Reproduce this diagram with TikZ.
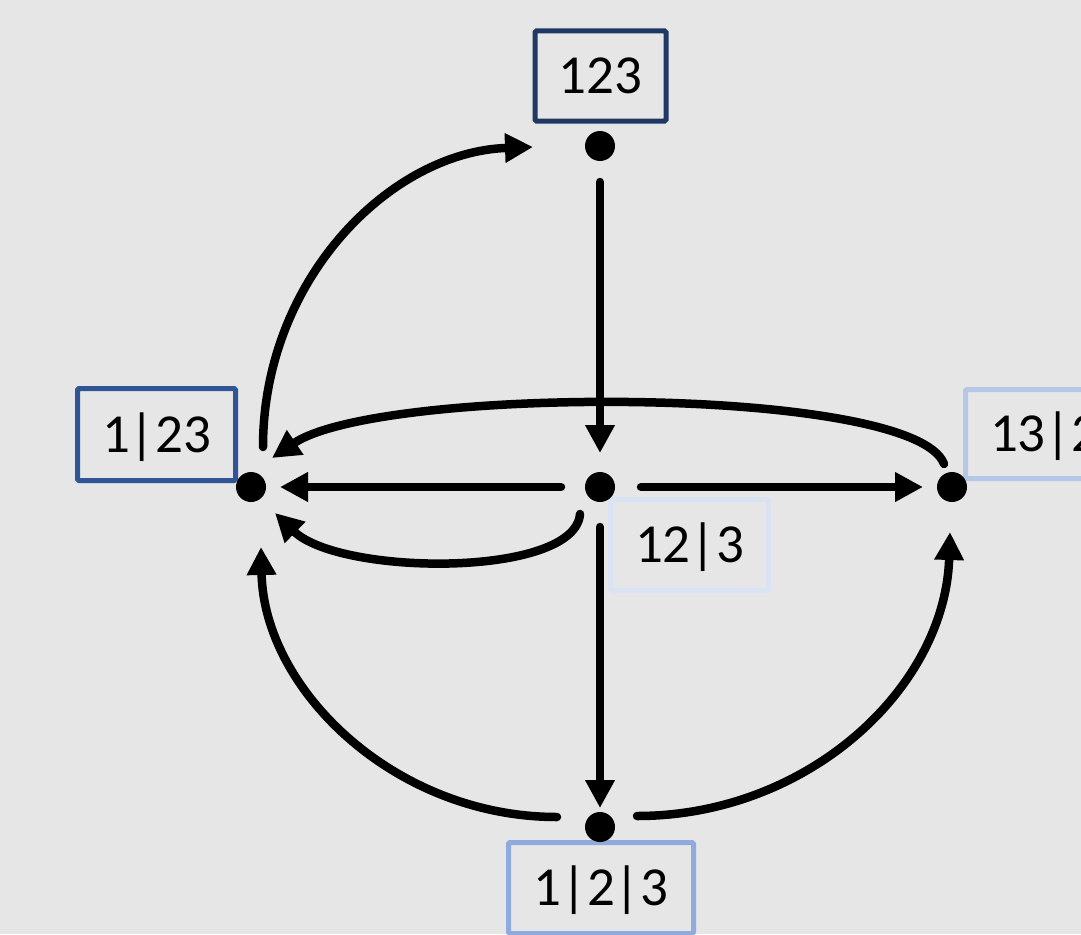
\documentclass[tikz,border=0pt]{standalone}
\usepackage{fontspec}
\setmainfont{Carlito}
\usetikzlibrary{arrows.meta,calc}
\definecolor{bg}{HTML}{E7E6E6}
\definecolor{cA}{HTML}{1F3864}
\definecolor{cB}{HTML}{2F5597}
\definecolor{cC}{HTML}{DAE3F3}
\definecolor{cD}{HTML}{B4C7E7}
\definecolor{cE}{HTML}{8FAADC}
\tikzset{
  dot/.style={circle,fill=black,inner sep=0pt,minimum size=30pt},
  lbl/.style={draw,line width=5pt,rounded corners=1.5pt,inner sep=0pt,
    font=\fontsize{55}{60}\selectfont,text height=35pt,text depth=0pt,
    minimum width=158pt,minimum height=91pt,align=center},
  arr/.style={line width=8.5pt,line cap=round,-{Triangle[length=28pt,width=28pt]}}
}
\begin{document}
\begin{tikzpicture}[x=1pt,y=-1pt]
\useasboundingbox (0,0) rectangle (1081,934);
\fill[bg] (0,0) rectangle (1081,934);
\clip (0,0) rectangle (1081,934);
% labels
\node[lbl,draw=cA,minimum width=131pt,minimum height=90pt] (l123) at (600.5,76) {123};
\node[lbl,draw=cB,minimum height=92pt] (l1) at (156.5,434.5) {1|23};
\node[lbl,draw=cC] (l12) at (689.5,545) {12|3};
\node[lbl,draw=cD,minimum height=89pt] (l13) at (1044.5,434) {13|2};
\node[lbl,draw=cE,minimum width=185pt] (l0) at (601,888) {1|2|3};
% dots
\node[dot] (d123) at (600,146) {};
\node[dot] (d1) at (251,487) {};
\node[dot] (d12) at (600,487) {};
\node[dot] (d13) at (952,487) {};
\node[dot] (d0) at (600,827) {};
% straight arrows
\draw[arr] ($(d123)+(0,36)$) -- ($(d12)+(0,-34)$);
\draw[arr] ($(d12)+(-39,0)$) -- ($(d1)+(29,0)$);
\draw[arr] ($(d12)+(41,0)$) -- ($(d13)+(-29,0)$);
\draw[arr] ($(d12)+(0,40)$) -- ($(d0)+(0,-19)$);
% curved arrows
\draw[arr] ($(d12)+(-20,27)$) .. controls (575,578) and (340,576) .. ($(d1)+(24,26)$);
\draw[arr] ($(d1)+(12,-40)$) .. controls (263,280) and (390,152) .. ($(d123)+(-67,1)$);
\draw[arr] ($(d13)+(-8,-23)$) .. controls (915,385) and (380,385) .. ($(d1)+(21,-29)$);
\draw[arr] ($(d0)+(-43,-10)$) .. controls (395,817) and (264,690) .. ($(d1)+(10,60)$);
\draw[arr] ($(d0)+(37,-11)$) .. controls (808,816) and (945,688) .. ($(d13)+(-2,45)$);
\end{tikzpicture}
\end{document}
